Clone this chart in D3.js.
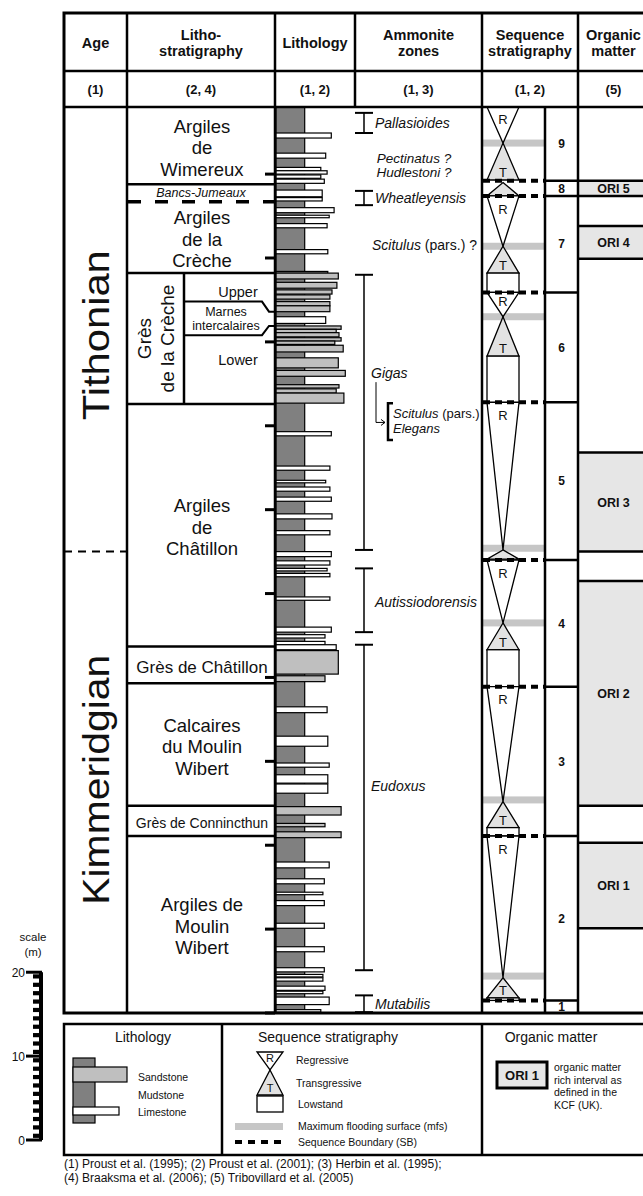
<!DOCTYPE html>
<html><head><meta charset="utf-8">
<script src="https://cdn.jsdelivr.net/npm/d3@7/dist/d3.min.js"></script>
<style>
body{margin:0;background:#fff}
svg{display:block}
text{font-family:Arial,"Liberation Sans",Helvetica,sans-serif;fill:#111}
</style></head><body>
<svg id="chart" width="643" height="1196"></svg>
<script>
// ---------------- DATA ----------------
const headerLabels=[["Age"],["Litho-","stratigraphy"],["Lithology"],["Ammonite","zones"],["Sequence","stratigraphy"],["Organic","matter"]];
const headerRefs=["(1)","(2, 4)","(1, 2)","(1, 3)","(1, 2)","(5)"];

// depth in metres above base of section
const stageNames=["Tithonian","Kimmeridgian"];
const stageTops=[108,55.0];
const stageBottoms=[55.0,0];
const stageLabelAt=[80.8,27.8];

const lithoUnitNames=[["Argiles","de","Wimereux"],["Bancs-Jumeaux"],["Argiles","de la","Crèche"],["Grès","de la Crèche"],["Argiles","de","Châtillon"],["Grès de Châtillon"],["Calcaires","du Moulin","Wibert"],["Grès de Connincthun"],["Argiles de","Moulin","Wibert"]];
const lithoUnitTops=[108,98.8,96.7,88.2,72.6,43.7,39.3,24.7,21.1];
const lithoUnitBottoms=[98.8,96.7,88.2,72.6,43.7,39.3,24.7,21.1,0];

const subUnitNames=[["Upper"],["Marnes","intercalaires"],["Lower"]];
const subUnitTops=[88.2,84.8,80.8];
const subUnitBottoms=[84.8,80.8,72.6];
const subUnitLabelAt=[85.9,82.8,77.8];
const subUnitLinkTo=[83.6,81.9];

// lithology beds: [top, bottom, profile extent (0-10), type S=sandstone L=limestone]
const mudstoneExtent=4.1;
const beds=[
[104.9,104.3,7.9,"L"],[102.5,101.9,7.1,"L"],[100.8,100.4,6.4,"L"],[100.4,100.0,7.3,"L"],
[99.9,99.5,6.4,"L"],[99.4,98.9,6.9,"L"],[98.1,97.3,6.6,"L"],[97.2,96.8,6.6,"L"],
[96.0,95.4,8.3,"L"],[95.1,94.8,7.6,"L"],[94.1,93.6,7.3,"L"],[91.0,90.5,7.4,"L"],
[88.4,88.2,7.4,"L"],[88.2,87.5,8.9,"S"],[87.1,86.4,8.7,"S"],[86.2,85.7,8.0,"S"],
[85.6,85.1,7.7,"S"],[84.8,84.3,7.7,"S"],[84.3,83.6,7.7,"S"],[83.0,82.2,7.1,"L"],
[81.9,81.5,9.3,"S"],[81.5,81.1,8.6,"S"],[81.1,80.6,9.0,"S"],[80.5,80.1,9.3,"S"],
[80.1,79.7,8.4,"S"],[79.6,78.8,9.6,"S"],[78.1,76.9,8.9,"S"],[76.6,75.9,9.9,"S"],
[74.9,74.5,9.0,"S"],[74.4,73.9,8.6,"S"],[73.9,72.7,9.7,"S"],
[69.3,68.8,7.9,"L"],[65.2,64.7,7.7,"L"],[63.5,63.2,7.1,"L"],[62.7,62.2,7.7,"L"],
[61.5,61.0,7.9,"L"],[59.5,58.9,8.0,"L"],[57.5,57.0,7.7,"L"],[55.0,54.4,7.9,"L"],
[53.9,53.4,7.7,"L"],[53.0,52.7,7.3,"L"],[52.4,52.0,7.7,"L"],[49.6,49.2,7.7,"L"],
[46.0,45.4,7.9,"L"],[45.1,44.7,7.0,"L"],[44.3,43.9,7.0,"L"],[43.9,43.3,8.6,"L"],
[43.2,40.4,8.9,"S"],[40.2,39.5,7.0,"S"],[36.5,35.8,7.3,"L"],
[33.0,31.8,7.4,"L"],[29.8,29.3,7.6,"L"],[28.4,27.4,7.4,"L"],[27.3,26.2,7.4,"L"],
[24.6,23.6,9.3,"S"],[22.6,22.2,7.0,"S"],[21.6,20.9,9.3,"S"],
[18.0,17.3,7.6,"L"],[16.0,15.4,6.9,"L"],[14.4,14.1,6.7,"L"],[13.4,12.8,6.9,"L"],
[10.7,10.1,6.9,"L"],[7.9,7.3,6.9,"L"],[5.4,4.9,6.9,"L"],[4.6,4.3,6.7,"L"],
[4.2,3.8,6.7,"L"],[3.2,2.7,7.0,"L"],[2.6,2.3,6.7,"L"],[1.9,1.0,7.6,"L"],[0.4,0.1,6.4,"L"]
];

const zoneNames=["Pallasioides","Wheatleyensis","Gigas","Autissiodorensis","Eudoxus","Mutabilis"];
const zoneTops=[107.3,98.0,88.0,53.0,43.9,2.1];
const zoneBottoms=[104.9,96.3,55.2,45.4,5.1,0.1];
const zoneLabelAt=[106.1,97.15,76.3,49.0,27.1,1.1];
const floatingZoneLabels=["Pectinatus ?","Hudlestoni ?"];
const floatingZoneLabelAt=[101.9,100.2];
const scitulusLabelAt=91.5;
const elegansBracket=[72.7,68.3];
const elegansLabels=["Scitulus","Elegans"];
const elegansLabelAt=[71.5,69.7];
const gigasArrow=[75.2,70.4];

const seqIds=[9,8,7,6,5,4,3,2,1];
const seqTops=[108,99.2,97.4,85.9,72.8,54.0,38.9,21.1,1.5];
const seqMfs=[103.7,99.0,91.4,83.0,55.2,46.5,25.2,4.2,null];
const seqTBase=[99.3,97.4,88.2,78.3,54.1,43.3,22.1,1.8,null];
const seqBottoms=[99.2,97.4,85.9,72.8,54.0,38.9,21.1,1.5,0];
const mfsLevels=[103.7,91.4,83.0,55.4,46.5,25.4,4.4];
const sbLevels=[99.2,97.4,85.9,72.8,54.0,38.9,21.1,1.5];

const oriNames=["ORI 5","ORI 4","ORI 3","ORI 2","ORI 1"];
const oriTops=[99.2,93.8,66.8,51.5,20.3];
const oriBottoms=[97.4,89.9,55.0,24.7,10.1];

const scaleTicks=[0,10,20];
const footnotes=["(1) Proust et al. (1995); (2) Proust et al. (2001); (3) Herbin et al. (1995);","(4) Braaksma et al. (2006); (5) Tribovillard et al. (2005)"];

// ---------------- DRAWING ----------------
const svg=d3.select("#chart");
svg.append("rect").attr("width",643).attr("height",1196).attr("fill","#fff");
const y=d3.scaleLinear().domain([0,108]).range([1013,107]);
const xLith=d3.scaleLinear().domain([0,10]).range([276,346]);
const colX=[64,127,275,355,482,578,649];
const MUD="#808080",SAND="#bfbfbf",TGRAY="#e2e2e2",MFS="#c6c6c6",ORIFILL="#e6e6e6";

function T(x,yy,s,size,o={}){
  const t=svg.append("text").attr("x",x).attr("y",yy).attr("font-size",size)
   .attr("text-anchor",o.anchor||"middle");
  if(o.bold)t.attr("font-weight","bold");
  if(o.italic)t.attr("font-style","italic");
  t.text(s);return t;
}
function L(x1,y1,x2,y2,w,dash){
  const l=svg.append("line").attr("x1",x1).attr("y1",y1).attr("x2",x2).attr("y2",y2)
   .attr("stroke","#000").attr("stroke-width",w);
  if(dash)l.attr("stroke-dasharray",dash);
  return l;
}

// Organic matter intervals
oriNames.forEach((n,i)=>{
  svg.append("rect").attr("x",colX[5]).attr("y",y(oriTops[i])).attr("width",colX[6]-colX[5])
    .attr("height",y(oriBottoms[i])-y(oriTops[i])).attr("fill",ORIFILL);
  L(colX[5],y(oriTops[i]),colX[6],y(oriTops[i]),2.5);
  L(colX[5],y(oriBottoms[i]),colX[6],y(oriBottoms[i]),2.5);
  T(613.5,(y(oriTops[i])+y(oriBottoms[i]))/2+4.5,n,12.5,{bold:true});
});

// Lithology log
svg.append("rect").attr("x",xLith(0)).attr("y",y(108)).attr("width",xLith(mudstoneExtent)-xLith(0))
  .attr("height",y(0)-y(108)).attr("fill",MUD).attr("stroke","#000").attr("stroke-width",1.2);
svg.selectAll(".bed").data(beds).enter().append("rect")
  .attr("x",xLith(0)).attr("y",d=>y(d[0])).attr("width",d=>xLith(d[2])-xLith(0))
  .attr("height",d=>Math.max(1.5,y(d[1])-y(d[0])))
  .attr("fill",d=>d[3]==="S"?SAND:"#fff").attr("stroke","#000").attr("stroke-width",1.2);
// 10 m ticks on the log
y.ticks(10).forEach(v=>L(265,y(v),275,y(v),3));

// Sequence stratigraphy
const xC=503,hw=16;
mfsLevels.forEach(m=>svg.append("rect").attr("x",483).attr("y",y(m)-3.5).attr("width",61).attr("height",7).attr("fill",MFS));
seqIds.forEach((id,i)=>{
  const top=seqTops[i],bot=seqBottoms[i],mfs=seqMfs[i],tb=seqTBase[i];
  if(mfs!==null){
    if(top-mfs>0.5){
      svg.append("path").attr("d",`M${xC-hw},${y(top)}L${xC+hw},${y(top)}L${xC},${y(mfs)}Z`)
        .attr("fill","#fff").attr("stroke","#000").attr("stroke-width",1.3);
      const h=y(mfs)-y(top);
      T(xC,y(top)+Math.min(13,h*0.35)+4.7,"R",13);
    }
    svg.append("path").attr("d",`M${xC},${y(mfs)}L${xC+hw},${y(tb)}L${xC-hw},${y(tb)}Z`)
      .attr("fill",TGRAY).attr("stroke","#000").attr("stroke-width",1.3);
    if(mfs-tb>2) T(xC,y(tb)-3,"T",13);
    if(tb-bot>0.3){
      svg.append("rect").attr("x",xC-hw).attr("y",y(tb)).attr("width",2*hw).attr("height",y(bot)-y(tb))
        .attr("fill","#fff").attr("stroke","#000").attr("stroke-width",1.3);
    }
  }
  T(561.5,(y(top)+y(bot))/2+4.3,String(id),12,{bold:true});
});
sbLevels.forEach(m=>{
  L(483,y(m),545,y(m),4,"7,5");
  L(545,y(m),578,y(m),2.5);
});

// Ammonite zones
zoneNames.forEach((n,i)=>{
  const x=364;
  L(x,y(zoneTops[i]),x,y(zoneBottoms[i]),1.5);
  L(355,y(zoneTops[i]),373,y(zoneTops[i]),2);
  L(355,y(zoneBottoms[i]),373,y(zoneBottoms[i]),2);
  const long=(zoneTops[i]-zoneBottoms[i])>15;
  T(long?371:375,y(zoneLabelAt[i])+5,n,14,{italic:true,anchor:"start"});
});
floatingZoneLabels.forEach((s,i)=>T(414,y(floatingZoneLabelAt[i])+4.5,s,13.5,{italic:true}));
{
  const t=svg.append("text").attr("x",477).attr("y",y(scitulusLabelAt)+5).attr("font-size",14).attr("text-anchor","end");
  t.append("tspan").attr("font-style","italic").text("Scitulus");
  t.append("tspan").text(" (pars.) ?");
}
svg.append("path").attr("d",`M376,${y(gigasArrow[0])}V${y(gigasArrow[1])}H385`).attr("fill","none").attr("stroke","#000").attr("stroke-width",1);
svg.append("path").attr("d",`M381,${y(gigasArrow[1])-3}L385,${y(gigasArrow[1])}L381,${y(gigasArrow[1])+3}`).attr("fill","none").attr("stroke","#000").attr("stroke-width",1);
svg.append("path").attr("d",`M393,${y(elegansBracket[0])}H388V${y(elegansBracket[1])}H393`).attr("fill","none").attr("stroke","#000").attr("stroke-width",2.5);
{
  const t=svg.append("text").attr("x",393).attr("y",y(elegansLabelAt[0])+4.5).attr("font-size",13).attr("text-anchor","start");
  t.append("tspan").attr("font-style","italic").text(elegansLabels[0]);
  t.append("tspan").text(" (pars.)");
  T(393,y(elegansLabelAt[1])+4.5,elegansLabels[1],13,{italic:true,anchor:"start"});
}

// Lithostratigraphy
lithoUnitNames.forEach((lines,i)=>{
  const top=lithoUnitTops[i],bot=lithoUnitBottoms[i];
  const cy=(y(top)+y(bot))/2;
  const name=lines.join(" ");
  if(name==="Bancs-Jumeaux"){
    L(colX[1],y(bot),colX[2],y(bot),3.5,"13,14").attr("stroke-dashoffset",-1);
    T(201,cy+4.5,name,12.5,{italic:true});
  }else{
    if(bot>0) L(colX[1],y(bot),colX[2],y(bot),2.5);
    if(name==="Grès de la Crèche"){
      const g=svg.append("g").attr("transform",`translate(156,${cy}) rotate(-90)`);
      lines.forEach((s,k)=>g.append("text").attr("x",0).attr("y",(k-0.5)*23+6.5).attr("font-size",19).attr("text-anchor","middle").text(s));
    }else{
      const size=name==="Grès de Connincthun"?14:(name==="Grès de Châtillon"?17:18.5);
      const lh=21.5;
      lines.forEach((s,k)=>T(202,cy+2+(k-(lines.length-1)/2)*lh+size*0.35,s,size));
    }
  }
});
// Grès de la Crèche subdivisions
L(184,y(lithoUnitTops[3]),184,y(lithoUnitBottoms[3]),2.5);
subUnitNames.forEach((lines,i)=>{
  const cx=lines.length>1?226:238;
  const size=lines.length>1?12.5:14.5;
  lines.forEach((s,k)=>T(cx,y(subUnitLabelAt[i])+(k-(lines.length-1)/2)*14+size*0.35,s,size));
});
subUnitLinkTo.forEach((m,i)=>{
  const yb=y(subUnitBottoms[i]),yl=y(m);
  svg.append("path").attr("d",`M184,${yb}H262L269,${yl}H275`).attr("fill","none").attr("stroke","#000").attr("stroke-width",2);
});

// Age
stageNames.forEach((n,i)=>{
  if(stageBottoms[i]>0) L(colX[0],y(stageBottoms[i]),colX[1],y(stageBottoms[i]),2,"8,6");
  svg.append("text").attr("transform",`translate(109,${y(stageLabelAt[i])}) rotate(-90)`)
    .attr("text-anchor","middle").attr("font-size",37)
    .attr("textLength",n.length>10?250:170).attr("lengthAdjust","spacingAndGlyphs").text(n);
});

// Frame
svg.append("rect").attr("x",64).attr("y",13).attr("width",colX[6]-64).attr("height",1000)
  .attr("fill","none").attr("stroke","#000").attr("stroke-width",3);
L(64,71,649,71,2.5);L(64,107,649,107,2.5);
[1,2,4,5].forEach(k=>L(colX[k],13,colX[k],1013,2.5));
L(colX[3],13,colX[3],107,2.5);
L(545,107,545,1013,2.5);

// Header text
headerLabels.forEach((lines,i)=>{
  const cx=(colX[i]+colX[i+1])/2;
  if(lines.length===1) T(cx,48,lines[0],14.5,{bold:true});
  else lines.forEach((s,k)=>T(cx,40+k*16,s,14.5,{bold:true}));
  T(cx,94,headerRefs[i],13,{bold:true});
});

// Scale bar
const yS=d3.scaleLinear().domain([0,20]).range([1140,1140-(y(0)-y(20))]);
T(33,941,"scale",11.5);T(33,956,"(m)",11.5);
svg.append("rect").attr("x",39).attr("y",yS(20)).attr("width",4).attr("height",yS(0)-yS(20)).attr("fill","#000");
d3.range(0,20).forEach(v=>svg.append("rect").attr("x",33).attr("y",yS(v+0.75)).attr("width",6).attr("height",yS(v+0.25)-yS(v+0.75)).attr("fill","#000"));
scaleTicks.forEach(v=>{L(26,yS(v),42,yS(v),3);T(25,yS(v)+4.5,String(v),12,{anchor:"end"});});

// Legend
svg.append("rect").attr("x",64).attr("y",1024).attr("width",585).attr("height",131).attr("fill","none").attr("stroke","#000").attr("stroke-width",2.5);
L(222,1024,222,1155,2.5);L(482,1024,482,1155,2.5);
T(143,1042,"Lithology",14);T(328,1042,"Sequence stratigraphy",14);T(551,1042,"Organic matter",14);
svg.append("rect").attr("x",73).attr("y",1058).attr("width",22).attr("height",65).attr("fill",MUD).attr("stroke","#000").attr("stroke-width",1.2);
svg.append("rect").attr("x",73).attr("y",1067).attr("width",54).attr("height",15).attr("fill",SAND).attr("stroke","#000").attr("stroke-width",1.2);
svg.append("rect").attr("x",73).attr("y",1107).attr("width",46).attr("height",8).attr("fill","#fff").attr("stroke","#000").attr("stroke-width",1.2);
T(138,1081,"Sandstone",10.5,{anchor:"start"});T(138,1099,"Mudstone",10.5,{anchor:"start"});T(138,1116,"Limestone",10.5,{anchor:"start"});
svg.append("path").attr("d","M257,1052L283,1052L270,1070Z").attr("fill","#fff").attr("stroke","#000").attr("stroke-width",1.3);
svg.append("path").attr("d","M270,1070L283,1095L257,1095Z").attr("fill",TGRAY).attr("stroke","#000").attr("stroke-width",1.3);
svg.append("rect").attr("x",257).attr("y",1096).attr("width",26).attr("height",16).attr("fill","#fff").attr("stroke","#000").attr("stroke-width",1.3);
T(270,1062,"R",11);T(270,1092,"T",11);
svg.append("rect").attr("x",235).attr("y",1123).attr("width",48).attr("height",7).attr("fill",MFS);
L(235,1142,283,1142,4,"7,6");
T(296,1064,"Regressive",10.5,{anchor:"start"});T(296,1087,"Transgressive",10.5,{anchor:"start"});
T(298,1108,"Lowstand",10.5,{anchor:"start"});T(298,1130,"Maximum flooding surface (mfs)",10.5,{anchor:"start"});
T(298,1146,"Sequence Boundary (SB)",10.5,{anchor:"start"});
svg.append("rect").attr("x",497).attr("y",1062).attr("width",50).attr("height",26).attr("fill",ORIFILL).attr("stroke","#000").attr("stroke-width",3);
T(522,1079.5,"ORI 1",13,{bold:true});
["organic matter","rich interval as","defined in the","KCF (UK)."].forEach((s,k)=>T(554,1071+k*12.5,s,10.5,{anchor:"start"}));
footnotes.forEach((s,k)=>T(64,1168+k*14,s,12,{anchor:"start"}));
</script></body></html>
